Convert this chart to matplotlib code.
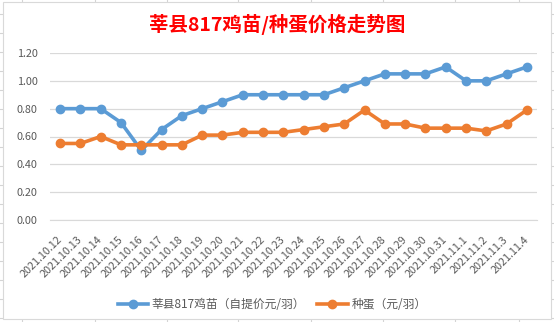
import matplotlib
matplotlib.use("Agg")
import matplotlib.pyplot as plt
from matplotlib.lines import Line2D

plt.rcParams['font.family'] = ['Noto Sans CJK SC', 'DejaVu Sans']

dates = ["2021.10.12", "2021.10.13", "2021.10.14", "2021.10.15", "2021.10.16", "2021.10.17",
         "2021.10.18", "2021.10.19", "2021.10.20", "2021.10.21", "2021.10.22", "2021.10.23",
         "2021.10.24", "2021.10.25", "2021.10.26", "2021.10.27", "2021.10.28", "2021.10.29",
         "2021.10.30", "2021.10.31", "2021.11.1", "2021.11.2", "2021.11.3", "2021.11.4"]
chick = [0.80, 0.80, 0.80, 0.70, 0.50, 0.65, 0.75, 0.80, 0.85, 0.90, 0.90, 0.90,
         0.90, 0.90, 0.95, 1.00, 1.05, 1.05, 1.05, 1.10, 1.00, 1.00, 1.05, 1.10]
egg = [0.55, 0.55, 0.60, 0.54, 0.54, 0.54, 0.54, 0.61, 0.61, 0.63, 0.63, 0.63,
       0.65, 0.67, 0.69, 0.79, 0.69, 0.69, 0.66, 0.66, 0.66, 0.64, 0.69, 0.79]
yticks = [0.00, 0.20, 0.40, 0.60, 0.80, 1.00, 1.20]
title = "莘县817鸡苗/种蛋价格走势图"
labels = ["莘县817鸡苗（自提价元/羽）", "种蛋（元/羽）"]

W, H = 554, 322
fig = plt.figure(figsize=(W / 100, H / 100), dpi=100)

# spreadsheet cell grid behind the chart
grid_c = '#D4D4D4'
for x in [22, 95, 167, 238, 311, 383, 455, 519]:
    fig.add_artist(Line2D([x / W, x / W], [0, 1], color=grid_c, lw=0.8, transform=fig.transFigure, zorder=0))
for k in range(17):
    y = 14 + 19 * k
    fig.add_artist(Line2D([0, 1], [1 - y / H, 1 - y / H], color=grid_c, lw=0.8, transform=fig.transFigure, zorder=0))

# chart area
chart = plt.Rectangle((3 / W, 1 - 319 / H), (551 - 3) / W, (319 - 2) / H, transform=fig.transFigure,
                      facecolor='white', edgecolor='#D9D9D9', lw=0.8, zorder=1)
fig.add_artist(chart)

ax = fig.add_axes([50 / W, 1 - 220 / H, (537 - 50) / W, (220 - 53) / H])
ax.set_zorder(2)
ax.patch.set_alpha(0)
x = list(range(len(dates)))
ax.plot(x, chick, color='#5B9BD5', lw=2.6, marker='o', ms=6, label=labels[0], zorder=3)
ax.plot(x, egg, color='#ED7D31', lw=2.6, marker='o', ms=6, label=labels[1], zorder=3)

ax.set_xlim(-0.5, len(dates) - 0.5)
ax.set_ylim(0, 1.2)
ax.set_yticks(yticks)
ax.set_yticklabels([f"{v:.2f}" for v in yticks])
ax.yaxis.grid(True, color='#D9D9D9', lw=0.9)
ax.set_axisbelow(True)
for s in ax.spines.values():
    s.set_visible(False)
ax.spines['bottom'].set_visible(True)
ax.spines['bottom'].set_color('#D9D9D9')
ax.tick_params(axis='both', length=0, colors='#595959', labelsize=7.8)
ax.tick_params(axis='y', pad=9)
ax.set_xticks(x)
ax.set_xticklabels(dates, rotation=45, ha='right', va='center', rotation_mode='anchor')
ax.tick_params(axis='x', pad=13)

fig.text(0.5, 1 - 24 / H, title, color='#FF0000', fontsize=14, fontweight='bold', ha='center', va='center', zorder=3)

leg = fig.legend(loc='center', bbox_to_anchor=(272 / W, 1 - 305 / H), ncol=2, frameon=False,
                 fontsize=8.5, handlelength=2.6, columnspacing=1.0, handletextpad=0.3, labelcolor='#595959')
leg.set_zorder(3)

fig.savefig('out.png', dpi=100)
